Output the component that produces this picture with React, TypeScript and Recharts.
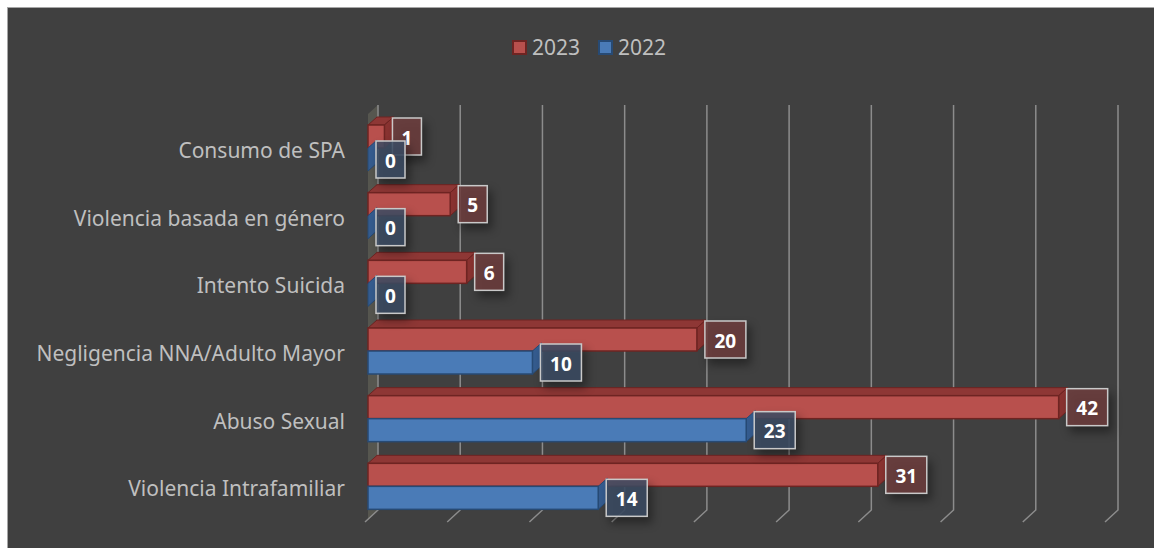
import { BarChart, Bar, XAxis, YAxis, CartesianGrid, Legend, LabelList } from 'recharts';

const categories = [
  'Consumo de SPA',
  'Violencia basada en género',
  'Intento Suicida',
  'Negligencia NNA/Adulto Mayor',
  'Abuso Sexual',
  'Violencia Intrafamiliar',
];
const values2023 = [1, 5, 6, 20, 42, 31];
const values2022 = [0, 0, 0, 10, 23, 14];
const xTicks = [0, 5, 10, 15, 20, 25, 30, 35, 40, 45];

const data = categories.map((name, i) => ({ name, y2023: values2023[i], y2022: values2022[i] }));

const DX = 9;
const DY = 8;
const FONT = '"Noto Sans", sans-serif';

const RED = { front: '#b8504d', top: '#8e3735', side: '#8a3331', edge: '#6e2422', box: 'rgba(110,62,62,0.85)' };
const BLUE = { front: '#4a7bb7', top: '#34598a', side: '#355c8f', edge: '#274a74', box: 'rgba(60,76,100,0.85)' };

function Box3D(props: any) {
  const { x, y, width, height, colors, showTop } = props;
  const w = Math.max(0, width);
  return (
    <g>
      {showTop && (
        <polygon
          points={`${x},${y} ${x + DX},${y - DY} ${x + w + DX},${y - DY} ${x + w},${y}`}
          fill={colors.top}
          stroke={colors.edge}
          strokeWidth={1}
        />
      )}
      <polygon
        points={`${x + w},${y} ${x + w + DX},${y - DY} ${x + w + DX},${y + height - DY} ${x + w},${y + height}`}
        fill={colors.side}
        stroke={colors.edge}
        strokeWidth={1}
      />
      {w > 0 && <rect x={x} y={y} width={w} height={height} fill={colors.front} stroke={colors.edge} strokeWidth={1.5} />}
    </g>
  );
}

function ValueBox(props: any) {
  const { x, y, width, height, value, colors } = props;
  const bw = String(value).length > 1 ? 41 : 29;
  const bx = x + Math.max(0, width) + 8;
  const cy = y + height / 2;
  return (
    <g>
      <rect
        x={bx}
        y={cy - 18.5}
        width={bw}
        height={37}
        fill={colors.box}
        stroke="#c9c9c9"
        strokeWidth={1.5}
        style={{ filter: 'drop-shadow(4px 6px 5px rgba(0,0,0,0.45))' }}
      />
      <text x={bx + bw / 2} y={cy + 1} textAnchor="middle" dominantBaseline="central" fill="#ffffff" fontFamily={FONT} fontWeight="bold" fontSize={19}>
        {value}
      </text>
    </g>
  );
}

function CategoryTick(props: any) {
  const { x, y, payload } = props;
  return (
    <text x={x - 15} y={y + 2} textAnchor="end" dominantBaseline="central" fill="#bfbfbf" fontFamily={FONT} fontSize={21}>
      {payload.value}
    </text>
  );
}

const EmptyTick = () => <g />;

function GridLine(props: any) {
  const { x1, y1, y2 } = props;
  const first = Math.abs(x1 - 360) < 1;
  return (
    <g key={props.key}>
      {first && (
        <polygon
          points={`${x1},${y1} ${x1 + 10},${y1 - 9} ${x1 + 10},${y2 - 10} ${x1},${y2}`}
          fill="rgba(130,130,110,0.35)"
        />
      )}
      <polyline
        points={`${x1 + 10},${y1 - 9} ${x1 + 10},${y2 - 10} ${x1 - 3},${y2 + 2}`}
        fill="none"
        stroke="#8c8c8c"
        strokeWidth={1.5}
      />
    </g>
  );
}

function LegendContent() {
  const item = (label: string, c: typeof RED) => (
    <span style={{ display: 'inline-flex', alignItems: 'center', marginRight: 18 }}>
      <span style={{ width: 11, height: 11, background: c.front, border: `2px solid ${c.edge}`, marginRight: 5 }} />
      <span style={{ color: '#bfbfbf', fontSize: 21, fontFamily: FONT }}>{label}</span>
    </span>
  );
  return (
    <div style={{ height: 24, display: 'flex', justifyContent: 'center', alignItems: 'center', paddingLeft: 34 }}>
      {item('2023', RED)}
      {item('2022', BLUE)}
    </div>
  );
}

export default function App() {
  return (
    <div
      style={{
        position: 'absolute',
        left: 7,
        top: 7,
        right: 0,
        bottom: 0,
        minHeight: 541,
        background: '#404040',
        borderLeft: '1px solid #a6a6a6',
        borderTop: '1px solid #a6a6a6',
      }}
    >
      <BarChart
        width={1146}
        height={540}
        data={data}
        layout="vertical"
        margin={{ top: 82, right: 46, bottom: 28, left: 0 }}
        barGap={0}
        barSize={23}
      >
        <CartesianGrid horizontal={false} vertical={GridLine as any} />
        <XAxis type="number" domain={[0, 45]} ticks={xTicks} height={0} tick={EmptyTick} axisLine={false} tickLine={false} />
        <YAxis type="category" dataKey="name" width={360} axisLine={false} tickLine={false} tick={<CategoryTick />} />
        <Legend verticalAlign="top" content={<LegendContent />} wrapperStyle={{ top: 27, left: 0, width: 1146 }} />
        <Bar dataKey="y2023" name="2023" fill={RED.front} isAnimationActive={false} shape={(p: any) => <Box3D {...p} colors={RED} showTop />}>
          <LabelList dataKey="y2023" content={(p: any) => <ValueBox {...p} colors={RED} />} />
        </Bar>
        <Bar dataKey="y2022" name="2022" fill={BLUE.front} isAnimationActive={false} shape={(p: any) => <Box3D {...p} colors={BLUE} showTop={false} />}>
          <LabelList dataKey="y2022" content={(p: any) => <ValueBox {...p} colors={BLUE} />} />
        </Bar>
      </BarChart>
    </div>
  );
}
